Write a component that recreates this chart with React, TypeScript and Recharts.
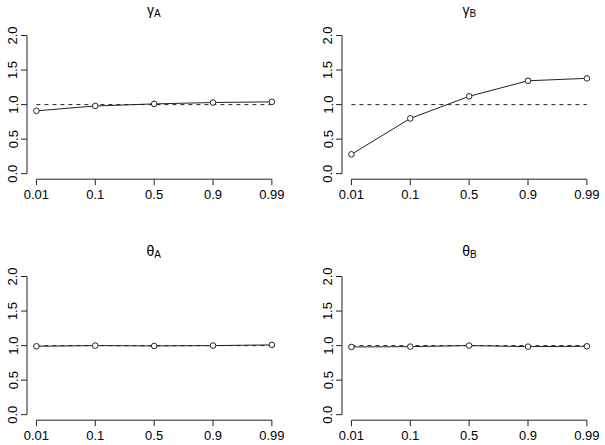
import React from "react";
import { LineChart, Line, XAxis, YAxis, ReferenceLine } from "recharts";

const categories = ["0.01", "0.1", "0.5", "0.9", "0.99"];
const gammaA = [0.91, 0.98, 1.01, 1.03, 1.04];
const gammaB = [0.28, 0.8, 1.12, 1.345, 1.38];
const thetaA = [0.99, 1.0, 0.995, 1.0, 1.01];
const thetaB = [0.98, 0.985, 1.0, 0.985, 0.99];
const yTicks = [0, 0.5, 1, 1.5, 2];
const xTicks = categories.map((_, i) => i + 1);
const refValue = 1;

const FONT = '"Liberation Sans", Arial, Helvetica, sans-serif';
const INK = "#222";
const TICK_FS = 13;

const X_DOMAIN: [number, number] = [0.84, 5.16];
const Y_DOMAIN: [number, number] = [-0.08, 2.08];

const PLOT_W = 254.3;
const PLOT_H = 149.2;
const Y_AXIS_W = 30;
const M_TOP = 30;
const M_RIGHT = 10;
const X_AXIS_H = 30;

type Panel = {
  sym: string;
  sub: string;
  values: number[];
  plotLeft: number;
  plotTop: number;
};

const panels: Panel[] = [
  { sym: "γ", sub: "A", values: gammaA, plotLeft: 26.6, plotTop: 30.3 },
  { sym: "γ", sub: "B", values: gammaB, plotLeft: 342.3, plotTop: 30.3 },
  { sym: "θ", sub: "A", values: thetaA, plotLeft: 26.6, plotTop: 270.8 },
  { sym: "θ", sub: "B", values: thetaB, plotLeft: 342.3, plotTop: 270.8 },
];

const YTick = (props: any) => {
  const { x, y, payload } = props;
  const bx = x - 1.5;
  return (
    <text
      x={bx}
      y={y}
      transform={`rotate(-90, ${bx}, ${y})`}
      textAnchor="middle"
      fontSize={TICK_FS}
      fontFamily={FONT}
      fill="#000"
    >
      {Number(payload.value).toFixed(1)}
    </text>
  );
};

const PanelChart = ({ p }: { p: Panel }) => {
  const data = p.values.map((v, i) => ({ i: xTicks[i], v }));
  const w = Y_AXIS_W + PLOT_W + M_RIGHT;
  const h = M_TOP + PLOT_H + X_AXIS_H;
  return (
    <div
      style={{
        position: "absolute",
        left: p.plotLeft - Y_AXIS_W,
        top: p.plotTop - M_TOP,
        width: w,
        height: h,
      }}
    >
      <LineChart
        width={w}
        height={h}
        data={data}
        margin={{ top: M_TOP, right: M_RIGHT, bottom: 0, left: 0 }}
      >
        <XAxis
          dataKey="i"
          type="number"
          domain={X_DOMAIN}
          allowDataOverflow
          ticks={xTicks}
          tickFormatter={(v: number) => categories[v - 1]}
          axisLine={false}
          tickLine={{ stroke: INK }}
          tickSize={6}
          tickMargin={5}
          height={X_AXIS_H}
          tick={{ fill: "#000", fontSize: TICK_FS, fontFamily: FONT }}
          interval={0}
        />
        <YAxis
          type="number"
          domain={Y_DOMAIN}
          allowDataOverflow
          ticks={yTicks}
          axisLine={false}
          tickLine={{ stroke: INK }}
          tickSize={6}
          tickMargin={2}
          width={Y_AXIS_W}
          tick={<YTick />}
          interval={0}
        />
        <ReferenceLine
          segment={[
            { x: X_DOMAIN[0], y: yTicks[0] },
            { x: X_DOMAIN[0], y: yTicks[yTicks.length - 1] },
          ]}
          stroke={INK}
          ifOverflow="visible"
        />
        <ReferenceLine
          segment={[
            { x: xTicks[0], y: Y_DOMAIN[0] },
            { x: xTicks[xTicks.length - 1], y: Y_DOMAIN[0] },
          ]}
          stroke={INK}
          ifOverflow="visible"
        />
        <ReferenceLine
          segment={[
            { x: xTicks[0], y: refValue },
            { x: xTicks[xTicks.length - 1], y: refValue },
          ]}
          stroke={INK}
          strokeDasharray="4 4"
          ifOverflow="visible"
        />
        <Line
          dataKey="v"
          type="linear"
          stroke={INK}
          strokeWidth={1}
          dot={{ r: 2.8, fill: "#fff", stroke: INK, strokeWidth: 1 }}
          isAnimationActive={false}
        />
      </LineChart>
    </div>
  );
};

export default function App() {
  return (
    <div
      style={{
        position: "absolute",
        left: 0,
        top: 0,
        width: 605,
        height: 445,
        background: "#fff",
        overflow: "hidden",
      }}
    >
      {panels.map((p, k) => (
        <PanelChart key={k} p={p} />
      ))}
      <svg
        width={605}
        height={445}
        style={{ position: "absolute", left: 0, top: 0, pointerEvents: "none" }}
      >
        {panels.map((p, k) => (
          <text
            key={k}
            x={p.plotLeft + PLOT_W / 2}
            y={p.plotTop - 15}
            textAnchor="middle"
            fontSize={14}
            fontFamily={FONT}
            fill="#000"
          >
            {p.sym}
            <tspan fontSize={10} dy={2}>
              {p.sub}
            </tspan>
          </text>
        ))}
      </svg>
    </div>
  );
}
